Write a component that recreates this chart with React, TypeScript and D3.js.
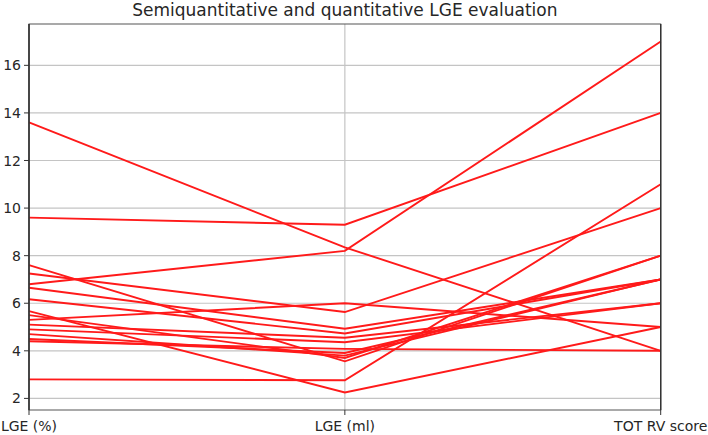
import React from "react";
import * as d3 from "d3";

const dimensions = ["LGE (%)", "LGE (ml)", "TOT RV score"];
const lgePct = [13.6, 9.6, 7.6, 7.25, 6.8, 6.65, 6.17, 5.67, 5.5, 5.3, 5.1, 4.9, 4.7, 4.5, 4.4, 2.8];
const lgeMl = [8.35, 9.3, 3.56, 5.63, 8.2, 4.93, 4.73, 2.25, 3.7, 6.0, 4.55, 4.36, 3.8, 3.91, 4.08, 2.76];
const totRv = [4, 14, 8, 10, 17, 7, 7, 5, 8, 5, 6, 6, 7, 7, 4, 11];
const yTicks = [2, 4, 6, 8, 10, 12, 14, 16];
const title = "Semiquantitative and quantitative LGE evaluation";

const W = 708;
const H = 435;
const M = { left: 29, right: 47.3, top: 24, bottom: 25 };

export default function App() {
  const rows = lgePct.map((v, i) => [v, lgeMl[i], totRv[i]]);
  const all = rows.flat();
  const lo = d3.min(all) as number;
  const hi = d3.max(all) as number;
  const pad = (hi - lo) * 0.05;
  const x = d3.scalePoint<string>().domain(dimensions).range([M.left, W - M.right]);
  const y = d3.scaleLinear().domain([lo - pad, hi + pad]).range([H - M.bottom, M.top]);
  const line = d3
    .line<number>()
    .x((_, i) => x(dimensions[i]) as number)
    .y((d) => y(d));
  const font = "'DejaVu Sans', sans-serif";
  const x0 = M.left;
  const x1 = W - M.right;
  const y0 = M.top;
  const y1 = H - M.bottom;
  return (
    <svg
      width={W}
      height={H}
      style={{ position: "absolute", left: 0, top: 0, background: "#fff" }}
      fontFamily={font}
    >
      {/* grid */}
      {yTicks.map((t) => (
        <line key={"gy" + t} x1={x0} x2={x1} y1={y(t)} y2={y(t)} stroke="#c4c4c4" strokeWidth={1.2} />
      ))}
      {dimensions.map((d) => (
        <line key={"gx" + d} x1={x(d)} x2={x(d)} y1={y0} y2={y1} stroke="#c4c4c4" strokeWidth={1.2} />
      ))}
      {/* lines */}
      <g fill="none" stroke="#ff1a1a" strokeWidth={1.9}>
        {rows.map((r, i) => (
          <path key={i} d={line(r) || ""} />
        ))}
      </g>
      {/* frame */}
      <rect x={x0} y={y0} width={x1 - x0} height={y1 - y0} fill="none" stroke="#555" strokeWidth={1} />
      <line x1={x0} x2={x0} y1={y0} y2={y1} stroke="#333" strokeWidth={1.6} />
      <line x1={x1} x2={x1} y1={y0} y2={y1} stroke="#333" strokeWidth={1.4} />
      {/* y ticks */}
      {yTicks.map((t) => (
        <g key={"ty" + t}>
          <line x1={x0 - 5} x2={x0} y1={y(t)} y2={y(t)} stroke="#333" strokeWidth={1} />
          <text x={x0 - 8} y={y(t)} dy="0.36em" textAnchor="end" fontSize={14} fill="#262626">
            {t}
          </text>
        </g>
      ))}
      {/* x ticks */}
      {dimensions.map((d) => (
        <g key={"tx" + d}>
          <line x1={x(d)} x2={x(d)} y1={y1} y2={y1 + 5} stroke="#333" strokeWidth={1} />
          <text x={x(d)} y={y1 + 21} textAnchor="middle" fontSize={14} fill="#262626">
            {d}
          </text>
        </g>
      ))}
      <text x={(x0 + x1) / 2} y={16} textAnchor="middle" fontSize={17} fill="#262626">
        {title}
      </text>
    </svg>
  );
}
